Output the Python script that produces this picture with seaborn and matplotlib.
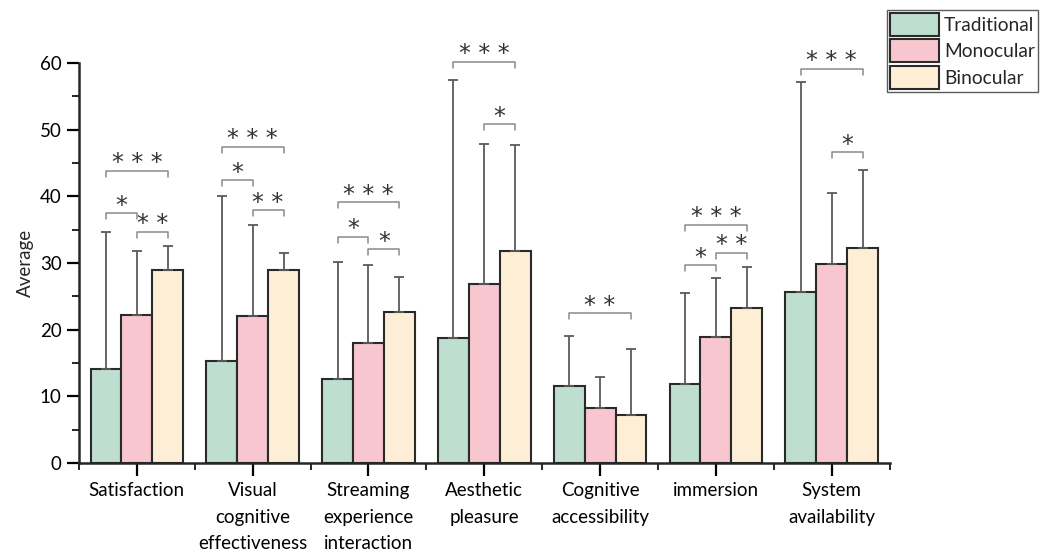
import numpy as np
import pandas as pd
import seaborn as sns
import matplotlib.pyplot as plt
from matplotlib.patches import Patch
from matplotlib.ticker import MultipleLocator

# Dimensions and groups
categories = ["Satisfaction", "Visual\ncognitive\neffectiveness", "Streaming\nexperience\ninteraction",
              "Aesthetic\npleasure", "Cognitive\naccessibility", "immersion", "System\navailability"]
groups = ["Traditional", "Monocular", "Binocular"]

# Mean scores per group
traditional = [14.1, 15.3, 12.6, 18.8, 11.6, 11.9, 25.7]
monocular = [22.2, 22.1, 18.05, 26.8, 8.3, 18.85, 29.8]
binocular = [28.95, 29.0, 22.6, 31.85, 7.25, 23.3, 32.25]

# Upper end of the error bars (mean + SD)
traditional_err_top = [34.65, 40.05, 30.1, 57.4, 19.05, 25.55, 57.2]
monocular_err_top = [31.8, 35.65, 29.65, 47.8, 12.85, 27.7, 40.55]
binocular_err_top = [32.55, 31.45, 27.85, 47.65, 17.05, 29.35, 43.95]

# Significance annotations: (category index, group a, group b, bracket height, label)
sig_cat = [0, 0, 0, 1, 1, 1, 2, 2, 2, 3, 3, 4, 5, 5, 5, 6, 6]
sig_a = [0, 0, 1, 0, 0, 1, 0, 0, 1, 0, 1, 0, 0, 0, 1, 0, 1]
sig_b = [2, 1, 2, 2, 1, 2, 2, 1, 2, 2, 2, 2, 2, 1, 2, 2, 2]
sig_y = [43.8, 37.45, 34.65, 47.45, 42.4, 37.9, 39.1, 33.95, 32.05, 60.2, 50.8, 22.45, 35.7, 29.65, 31.5,
         59.1, 46.6]
sig_label = ["***", "*", "**", "***", "*", "**", "***", "*", "*", "***", "*", "**", "***", "*", "**",
             "***", "*"]

colors = ["#BEDED0", "#F7C6CF", "#FEEED6"]

sns.set_style("ticks")
plt.rcParams["font.family"] = ["Lato", "DejaVu Sans"]

df = pd.DataFrame({
    "category": np.repeat(categories, 3),
    "group": groups * len(categories),
    "value": np.ravel(np.column_stack([traditional, monocular, binocular])),
})
err_tops = [traditional_err_top, monocular_err_top, binocular_err_top]

fig = plt.figure(figsize=(10.49, 5.53), dpi=100)
ax = fig.add_axes([0.0753, 0.1627, 0.7727, 0.7233])

sns.barplot(data=df, x="category", y="value", hue="group", hue_order=groups,
            order=categories, palette=colors, saturation=1, errorbar=None, width=0.8,
            edgecolor="#2a2a2a", linewidth=1.5, legend=False, ax=ax)

# Bar centers per group, read back from the drawn bars
bar_containers = list(ax.containers)
centers = []
for gi, cont in enumerate(bar_containers):
    xs = [p.get_x() + p.get_width() / 2 for p in cont.patches]
    hs = [p.get_height() for p in cont.patches]
    centers.append(xs)
    upper = np.array(err_tops[gi]) - np.array(hs)
    ax.errorbar(xs, hs, yerr=[np.zeros_like(upper), upper], fmt="none",
                ecolor="#5a5a5a", elinewidth=1.3, capsize=3.8, capthick=1.3, zorder=1)

# Significance brackets
tick = 1.0
for c, a, b, y, lab in zip(sig_cat, sig_a, sig_b, sig_y, sig_label):
    x1, x2 = centers[a][c], centers[b][c]
    ax.plot([x1, x1, x2, x2], [y - tick * 0.9, y, y, y - tick * 0.9], color="#8a8a8a",
            lw=1.1, clip_on=False, zorder=3)
    ax.annotate(" ".join(lab), xy=((x1 + x2) / 2, y), xytext=(0, 0.5),
                textcoords="offset points", ha="center", va="baseline",
                fontsize=17, color="#333333", annotation_clip=False, family="DejaVu Sans")

ax.set_xlim(-0.5, len(categories) - 0.5)
ax.set_ylim(0, 60)
ax.yaxis.set_major_locator(MultipleLocator(10))
ax.yaxis.set_minor_locator(MultipleLocator(5))
ax.set_xticks(range(len(categories)))
ax.set_xticks(np.arange(-0.5, len(categories), 1.0), minor=True)
ax.set_xticklabels(categories, linespacing=1.65)
ax.tick_params(axis="both", which="major", direction="out", length=9, width=1.6,
               labelsize=13.5, colors="black")
ax.tick_params(axis="both", which="minor", direction="out", length=5, width=1.4)
ax.tick_params(axis="x", which="major", pad=5)
ax.set_xlabel("")
ax.set_ylabel("Average", fontsize=13.5, labelpad=4)

sns.despine(ax=ax)
for side in ["left", "bottom"]:
    ax.spines[side].set_linewidth(1.8)

handles = [Patch(facecolor=col, edgecolor="#2a2a2a", linewidth=1.5, label=g)
           for col, g in zip(colors, groups)]
leg = fig.legend(handles=handles, loc="upper left", bbox_to_anchor=(0.8456, 0.982),
                 frameon=True, fancybox=False, fontsize=13.8, handlelength=2.55,
                 handleheight=1.45, handletextpad=0.26, labelspacing=0.2,
                 borderpad=0.15, borderaxespad=0)
leg.get_frame().set_edgecolor("#333333")
leg.get_frame().set_linewidth(1.0)

fig.savefig("out.png", dpi=100)
